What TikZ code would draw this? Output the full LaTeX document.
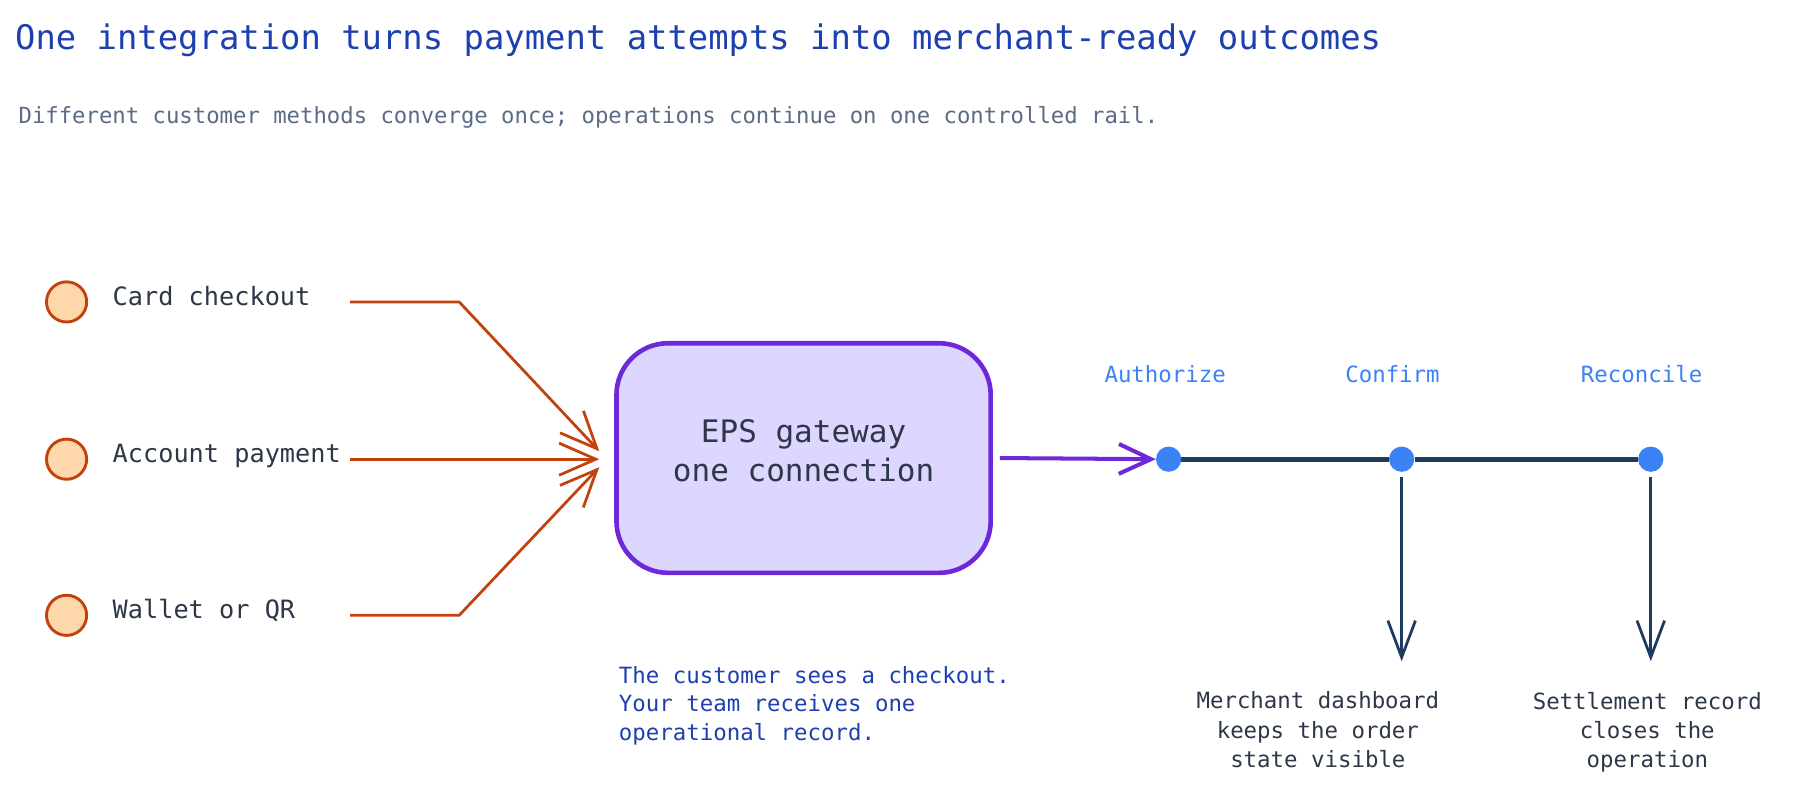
\documentclass[tikz,border=0pt]{standalone}
\usepackage{fontspec}
\setmonofont{DejaVu Sans Mono}
\usetikzlibrary{arrows.meta}
\definecolor{titleblue}{HTML}{1E40AF}
\definecolor{subgray}{HTML}{5B6B84}
\definecolor{ink}{HTML}{2D3748}
\definecolor{rust}{HTML}{C2410C}
\definecolor{peach}{HTML}{FED7AA}
\definecolor{lav}{HTML}{DDD6FE}
\definecolor{violet}{HTML}{6D28D9}
\definecolor{navy}{HTML}{1E3A5F}
\definecolor{dotblue}{HTML}{3B82F6}
\begin{document}
\begin{tikzpicture}[x=1pt,y=-1pt,
  titletext/.style={font=\ttfamily\fontsize{29.5}{35}\selectfont, text=titleblue, inner sep=0pt},
  subtext/.style={font=\ttfamily\fontsize{19.4}{24}\selectfont, text=subgray, inner sep=0pt},
  srcdot/.style={circle, draw=rust, fill=peach, line width=2.5pt, minimum size=35pt, inner sep=0pt},
  srclabel/.style={font=\ttfamily\fontsize{22}{26}\selectfont, text=ink, inner sep=0pt},
  flow/.style={draw=rust, line width=2.4pt, -{Straight Barb[length=32pt,width=28pt,line width=2.4pt]}},
  gatebox/.style={draw=violet, fill=lav, line width=4pt, rounded corners=45pt, minimum width=326pt, minimum height=200pt, inner sep=0pt},
  gatetext/.style={font=\ttfamily\fontsize{27}{34}\selectfont, text=ink, align=center, inner sep=0pt},
  pflow/.style={draw=violet, line width=3.5pt, -{Straight Barb[length=28pt,width=26pt,line width=3.5pt]}},
  stepdot/.style={circle, fill=dotblue, minimum size=22pt, inner sep=0pt},
  rail/.style={draw=navy, line width=4.2pt},
  steplabel/.style={font=\ttfamily\fontsize{19.5}{24}\selectfont, text=dotblue, inner sep=0pt},
  downflow/.style={draw=navy, line width=2.4pt, -{Straight Barb[length=32pt,width=24pt,line width=2.4pt]}},
  outtext/.style={font=\ttfamily\fontsize{19.5}{25.5}\selectfont, text=ink, align=center, inner sep=0pt},
  notetext/.style={font=\ttfamily\fontsize{19.5}{25.2}\selectfont, text=titleblue, align=left, inner sep=0pt}
]
\useasboundingbox[fill=white] (0,0) rectangle (1568,685.6);

\node[titletext, anchor=base west] (title) at (13,43) {One integration turns payment attempts into merchant-ready outcomes};
\node[subtext, anchor=base west] (subtitle) at (16,108) {Different customer methods converge once; operations continue on one controlled rail.};

% sources
\node[srcdot] (c1) at (58,263) {};
\node[srcdot] (c2) at (58,400) {};
\node[srcdot] (c3) at (58,536) {};
\node[srclabel, anchor=base west] (l1) at (98,266) {Card checkout};
\node[srclabel, anchor=base west] (l2) at (98,403) {Account payment};
\node[srclabel, anchor=base west] (l3) at (98,539) {Wallet or QR};

% gateway
\node[gatebox] (gw) at (700,399) {};
\node[gatetext] (gwt) at (700,393) {EPS gateway\\one connection};

\coordinate (s1) at (305,263);
\coordinate (s2) at (305,400);
\coordinate (s3) at (305,536);
\coordinate (k1) at (400,263);
\coordinate (k3) at (400,536);
\coordinate (t1) at (522,393);
\coordinate (t2) at (522,400);
\coordinate (t3) at (522,407);
\draw[flow] (s1) -- (k1) -- (t1);
\draw[flow] (s2) -- (t2);
\draw[flow] (s3) -- (k3) -- (t3);

% rail
\node[stepdot] (d1) at (1018,400) {};
\node[stepdot] (d2) at (1221,400) {};
\node[stepdot] (d3) at (1438,400) {};
\draw[rail] (d1) -- (d2) -- (d3);
\draw[pflow] ([xshift=6pt]gw.east) -- (d1.west);

\node[steplabel, anchor=base] (a1) at (1015,333) {Authorize};
\node[steplabel, anchor=base] (a2) at (1213,333) {Confirm};
\node[steplabel, anchor=base] (a3) at (1430,333) {Reconcile};

\coordinate (e2) at (1221,576);
\coordinate (e3) at (1438,576);
\draw[downflow] ([yshift=-4pt]d2.south) -- (e2);
\draw[downflow] ([yshift=-4pt]d3.south) -- (e3);

\node[outtext, anchor=north] (o2) at (1148,602.5) {Merchant dashboard\\keeps the order\\state visible};
\node[outtext, anchor=north] (o3) at (1435,602.5) {Settlement record\\closes the\\operation};

\node[notetext, anchor=north west] (note) at (539,580) {The customer sees a checkout.\\Your team receives one\\operational record.};
\end{tikzpicture}
\end{document}
